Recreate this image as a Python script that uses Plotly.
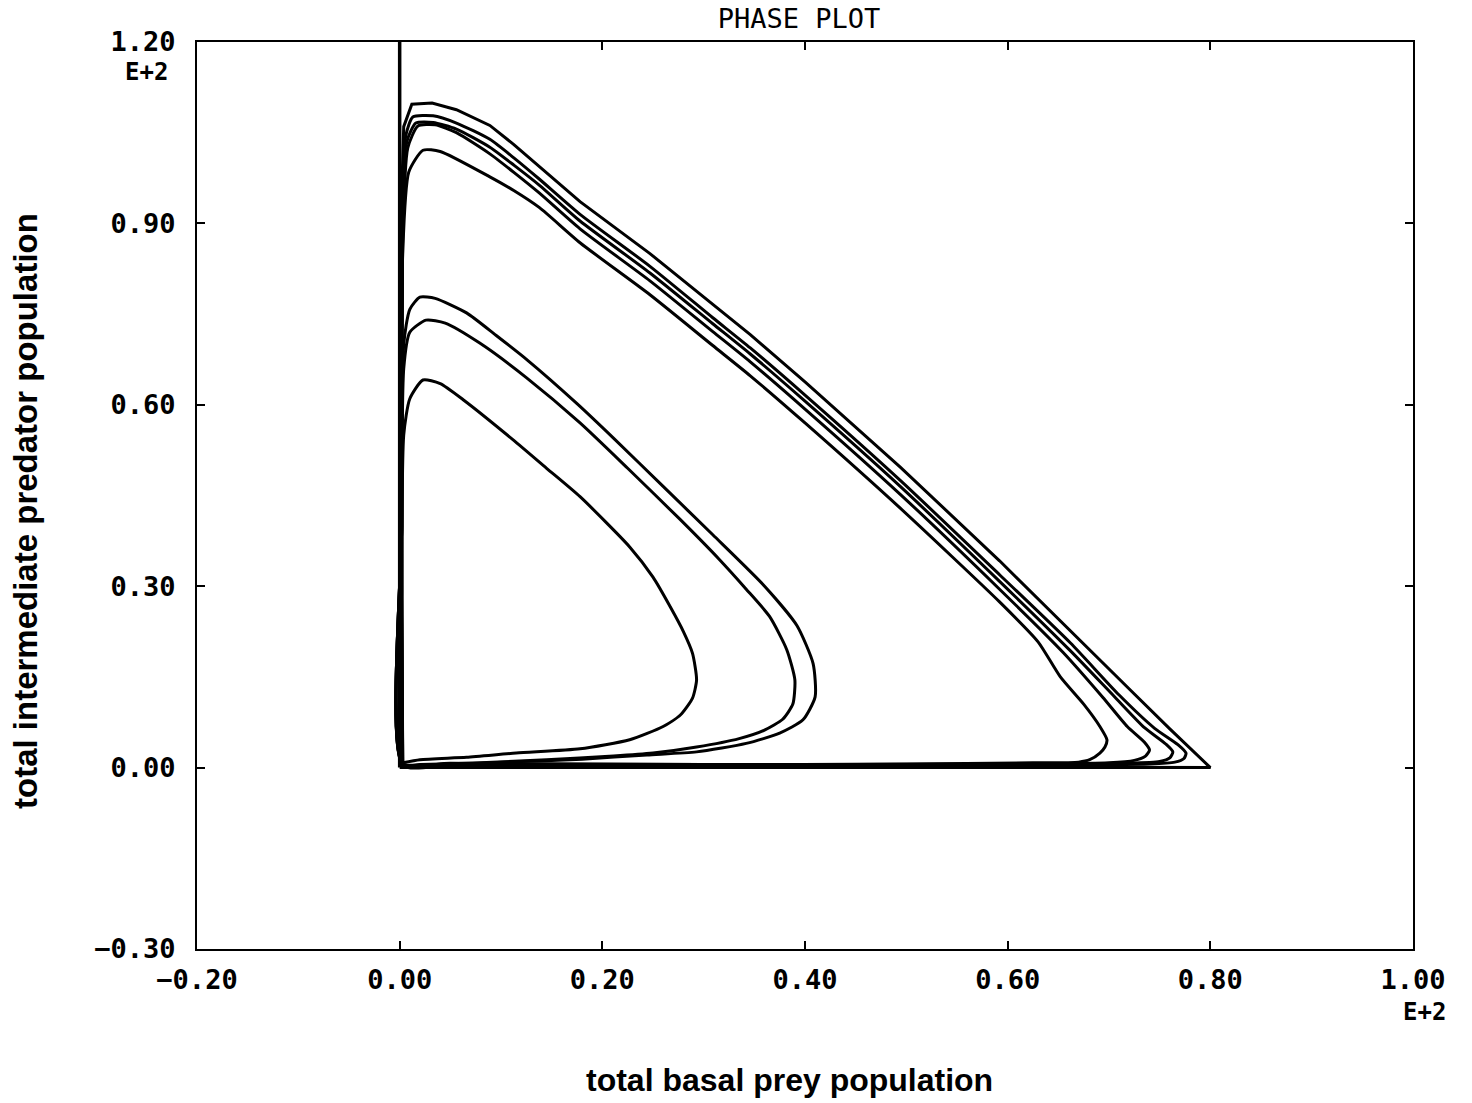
import plotly.graph_objects as go

# ---------------- data (population units; 1.00 E+2 = 100) ----------------
x_tickvals = [-20, 0, 20, 40, 60, 80, 100]
x_ticktext = ["\u22120.20", "0.00", "0.20", "0.40", "0.60", "0.80", "1.00"]
y_tickvals = [-30, 0, 30, 60, 90, 120]
y_ticktext = ["\u22120.30", "0.00", "0.30", "0.60", "0.90", "1.20"]

# trajectories lying on the axes
prey_free_x = [0, 0]
prey_free_y = [0, 120]
pred_free_x = [0, 80]
pred_free_y = [0, 0]

# outer orbits
orbit_a_x = [0.3, 0.2, 0.2, 0.4, 1.2, 3.2, 5.6, 8.9, 11.3, 13.8, 17.8, 24.7, 30.9, 34.6, 40.0, 49.4, 59.2, 66.2, 72.0, 76.0, 80.0, 60.0, 30.0, 5.0, 0.3]
orbit_a_y = [0.3, 40.0, 95.0, 106.0, 109.7, 109.9, 108.8, 106.2, 103.0, 99.4, 93.6, 85.0, 76.6, 71.6, 63.8, 49.7, 34.2, 22.7, 13.0, 6.4, 0.0, 0.1, 0.2, 0.3, 0.3]

orbit_b_x = [0.3, 0.2, 0.3, 0.6, 1.3, 3.3, 5.6, 8.9, 11.3, 13.8, 17.8, 24.7, 30.9, 34.6, 40.0, 49.4, 59.2, 66.2, 71.0, 74.5, 76.8, 77.6, 77.4, 76.5, 74.0, 60.0, 30.0, 5.0, 0.3]
orbit_b_y = [0.4, 40.0, 92.0, 104.5, 107.6, 107.8, 106.6, 103.9, 100.8, 97.3, 91.5, 82.9, 74.4, 69.4, 61.6, 47.5, 31.9, 20.6, 12.0, 6.5, 3.8, 2.4, 1.5, 0.9, 0.6, 0.4, 0.3, 0.4, 0.4]

orbit_c_x = [0.3, 0.2, 0.3, 0.7, 1.6, 3.3, 5.6, 8.9, 11.3, 13.8, 17.8, 24.7, 30.9, 34.6, 40.0, 49.4, 59.2, 66.2, 70.5, 73.5, 75.6, 76.3, 76.0, 75.0, 72.0, 60.0, 30.0, 5.0, 0.3]
orbit_c_y = [0.5, 40.0, 90.0, 103.5, 106.6, 106.7, 105.6, 102.6, 99.6, 96.3, 90.4, 81.8, 73.4, 68.4, 60.6, 46.5, 30.8, 19.3, 11.8, 6.6, 3.9, 2.6, 1.6, 1.0, 0.7, 0.5, 0.4, 0.5, 0.5]

orbit_d_x = [0.3, 0.2, 0.3, 0.8, 1.8, 3.5, 5.6, 8.9, 11.3, 13.8, 17.8, 24.7, 30.9, 34.6, 40.0, 49.4, 59.2, 65.5, 69.4, 71.8, 73.5, 74.0, 73.6, 72.5, 70.0, 60.0, 30.0, 5.0, 0.3]
orbit_d_y = [0.6, 40.0, 88.0, 102.5, 106.1, 106.3, 105.0, 101.5, 98.4, 95.0, 89.1, 80.5, 72.1, 67.1, 59.3, 45.2, 29.5, 19.0, 11.6, 6.8, 4.2, 2.9, 1.9, 1.2, 0.8, 0.6, 0.5, 0.6, 0.6]

orbit_e_x = [0.3, 0.2, 0.3, 0.9, 2.3, 4.0, 8.9, 11.3, 13.8, 17.8, 24.7, 30.9, 34.6, 40.0, 49.4, 59.2, 63.0, 65.2, 67.5, 69.1, 69.8, 69.6, 69.1, 68.1, 67.0, 62.5, 50.0, 30.0, 5.0, 0.3]
orbit_e_y = [0.7, 40.0, 85.0, 98.5, 102.1, 101.9, 97.7, 95.4, 92.6, 86.8, 78.2, 69.8, 64.8, 57.0, 42.9, 27.4, 20.8, 15.0, 10.5, 6.8, 4.6, 3.4, 2.4, 1.3, 0.9, 0.8, 0.6, 0.5, 0.7, 0.7]

# inner orbits
orbit_f_x = [0.3, 0.2, 0.4, 1.0, 2.0, 3.5, 6.6, 9.5, 12.6, 17.5, 21.1, 26.0, 30.9, 35.9, 39.2, 40.8, 41.0, 39.8, 37.5, 34.2, 29.3, 24.4, 18.0, 12.0, 6.0, 1.5, 0.3]
orbit_f_y = [0.5, 30.0, 70.0, 75.8, 77.8, 77.6, 75.2, 71.5, 67.4, 60.2, 54.5, 46.5, 38.5, 30.2, 23.5, 17.2, 11.7, 7.9, 5.7, 4.0, 2.6, 2.1, 1.4, 1.0, 0.6, 0.4, 0.4]

orbit_g_x = [0.3, 0.2, 0.4, 1.0, 2.6, 4.5, 7.9, 12.5, 17.8, 22.5, 27.7, 31.5, 34.2, 36.5, 38.2, 39.0, 38.8, 37.8, 36.0, 33.5, 29.3, 25.0, 21.1, 14.5, 8.0, 2.0, 0.3]
orbit_g_y = [0.4, 30.0, 66.0, 72.0, 74.0, 73.5, 70.2, 64.5, 57.0, 49.5, 41.0, 34.5, 29.5, 25.0, 19.5, 14.5, 10.5, 8.0, 6.2, 4.8, 3.4, 2.4, 1.9, 1.3, 0.8, 0.5, 0.4]

orbit_h_x = [0.3, 0.2, 0.4, 1.0, 2.3, 4.0, 6.3, 11.2, 14.5, 17.8, 22.7, 25.0, 26.7, 28.0, 28.9, 29.3, 28.9, 27.7, 26.0, 22.7, 17.8, 11.5, 6.6, 2.0, 0.3]
orbit_h_y = [0.4, 25.0, 55.0, 61.0, 64.1, 63.5, 60.8, 54.2, 49.5, 44.8, 36.5, 31.5, 26.6, 22.5, 18.9, 14.5, 11.5, 8.7, 6.8, 4.6, 3.1, 2.4, 1.7, 1.3, 0.8]

corner_orbit = (orbit_a_x, orbit_a_y)
smooth_orbits = [
    (orbit_b_x, orbit_b_y), (orbit_c_x, orbit_c_y),
    (orbit_d_x, orbit_d_y), (orbit_e_x, orbit_e_y),
    (orbit_f_x, orbit_f_y), (orbit_g_x, orbit_g_y), (orbit_h_x, orbit_h_y),
]

# ---------------- figure ----------------
FIG_W, FIG_H = 1472, 1103
ML, MT, MR, MB = 197, 42, 59, 154

fig = go.Figure()

fig.add_trace(go.Scatter(x=prey_free_x, y=prey_free_y, mode="lines",
                         line=dict(color="black", width=3.5), showlegend=False, hoverinfo="skip"))
fig.add_trace(go.Scatter(x=pred_free_x, y=pred_free_y, mode="lines",
                         line=dict(color="black", width=3), showlegend=False, hoverinfo="skip"))
fig.add_trace(go.Scatter(x=corner_orbit[0], y=corner_orbit[1], mode="lines",
                         line=dict(color="black", width=3), showlegend=False))
for ox, oy in smooth_orbits:
    fig.add_trace(go.Scatter(x=ox, y=oy, mode="lines",
                             line=dict(color="black", width=3, shape="spline", smoothing=0.6),
                             showlegend=False))

tickfont = dict(family="DejaVu Sans Mono", size=27, color="black", weight="bold")

fig.update_layout(
    width=FIG_W, height=FIG_H,
    margin=dict(l=ML, r=MR, t=MT, b=MB),
    paper_bgcolor="white", plot_bgcolor="white",
    title=dict(text="PHASE PLOT", x=799 / FIG_W, xanchor="center", y=1 - 19 / FIG_H, yanchor="middle",
               font=dict(family="DejaVu Sans Mono", size=27, color="black")),
    xaxis=dict(range=[-20, 100], tickvals=x_tickvals, ticktext=x_ticktext, automargin=False,
               showgrid=False, zeroline=False, showline=True, linecolor="black", linewidth=2,
               mirror="ticks", ticks="inside", ticklen=8, tickwidth=2, tickcolor="black",
               tickfont=tickfont, ticklabelstandoff=6),
    yaxis=dict(range=[-30, 120], tickvals=y_tickvals, ticktext=y_ticktext, automargin=False,
               showgrid=False, zeroline=False, showline=True, linecolor="black", linewidth=2,
               mirror="ticks", ticks="inside", ticklen=8, tickwidth=2, tickcolor="black",
               tickfont=tickfont, ticklabelstandoff=14),
    annotations=[
        dict(text="E+2", x=100, xref="x", y=-63 / 907, yref="paper", xanchor="right", yanchor="middle",
             showarrow=False, font=dict(family="DejaVu Sans Mono", size=24, color="black", weight="bold"),
             xshift=35),
        dict(text="E+2", x=-0.022, xref="paper", y=115.0, yref="y", xanchor="right", yanchor="middle",
             showarrow=False, font=dict(family="DejaVu Sans Mono", size=24, color="black", weight="bold")),
        dict(text="total basal prey population", x=(789 - 197) / 1216, xref="paper",
             y=(949 - 1080) / 907, yref="paper", xanchor="center", yanchor="middle", showarrow=False,
             font=dict(family="Liberation Sans", size=32, color="black", weight="bold")),
        dict(text="total intermediate predator population", x=(25 - 197) / 1216, xref="paper",
             y=(949 - 511) / 907, yref="paper", xanchor="center", yanchor="middle", showarrow=False,
             textangle=-90,
             font=dict(family="Liberation Sans", size=33, color="black", weight="bold")),
    ],
)

# remove the default 8 px page margin so the figure fills the window exactly
fig.write_html("out.html", config={"displayModeBar": False},
               post_script="document.body.style.margin='0px';document.body.style.overflow='hidden';")
